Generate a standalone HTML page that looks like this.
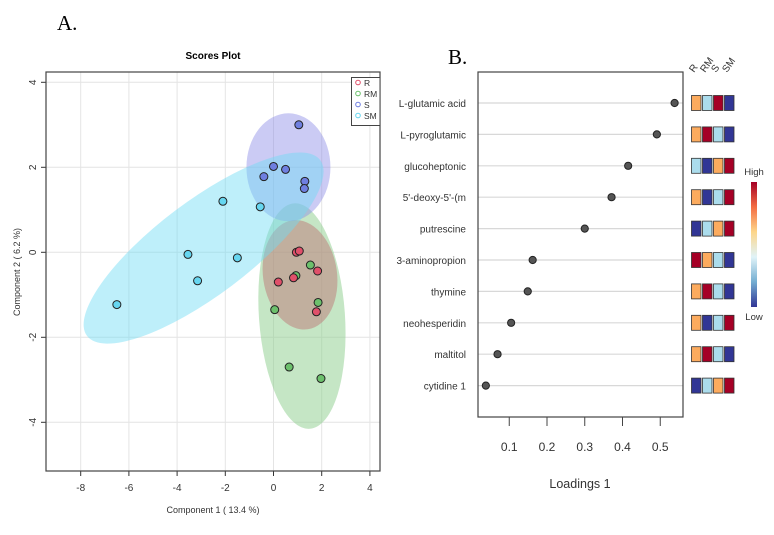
<!DOCTYPE html>
<html><head><meta charset="utf-8"><style>
body{margin:0;background:#fff;}
svg text{font-family:"Liberation Sans",sans-serif;}
</style></head><body>
<svg width="774" height="530" xmlns="http://www.w3.org/2000/svg">
<text x="57" y="30" style="font-family:'Liberation Serif',serif" font-size="21">A.</text>
<text x="448" y="64" style="font-family:'Liberation Serif',serif" font-size="21">B.</text>
<text x="213" y="59" text-anchor="middle" font-size="10" font-weight="bold">Scores Plot</text>
<g id="left"></g>
<g id="right"></g>
</svg>
<script>
const groups=['R','RM','S','SM'];
const groupColors=['#e0506a','#6cc06c','#6f7fe0','#66d6f0'];
const sX=[1.05,0,0.5,-0.4,1.3,1.28];
const sY=[3.0,2.02,1.95,1.78,1.67,1.5];
const smX=[-2.1,-0.55,-3.55,-1.5,-3.15,-6.5];
const smY=[1.2,1.07,-0.05,-0.13,-0.67,-1.23];
const rX=[0.95,1.07,1.83,0.2,0.83,1.78];
const rY=[0.0,0.03,-0.44,-0.7,-0.6,-1.4];
const rmX=[1.53,0.93,1.85,0.05,0.65,1.97];
const rmY=[-0.3,-0.55,-1.18,-1.35,-2.7,-2.97];
const xTicks=[-8,-6,-4,-2,0,2,4];
const yTicks=[-4,-2,0,2,4];
const metabolites=['L-glutamic acid','L-pyroglutamic','glucoheptonic','5\'-deoxy-5\'-(m','putrescine','3-aminopropion','thymine','neohesperidin','maltitol','cytidine 1'];
const loadings=[0.538,0.491,0.415,0.371,0.30,0.162,0.149,0.105,0.069,0.038];
const loadTicks=[0.1,0.2,0.3,0.4,0.5];
// heat levels: 0 low(navy) 1 lightblue 2 orange 3 high(red); columns R,RM,S,SM
const heatR=[2,2,1,2,0,3,2,2,2,0];
const heatRM=[1,3,0,0,1,2,3,0,3,1];
const heatS=[3,1,2,1,2,1,1,1,1,2];
const heatSM=[0,0,3,3,3,0,0,3,0,3];
const NS='http://www.w3.org/2000/svg';
function mk(p,t,a){const e=document.createElementNS(NS,t);for(const k in a)e.setAttribute(k,a[k]);p.appendChild(e);return e;}
const L=document.getElementById('left');
const X=v=>273.5+v*24.1, Y=v=>252.3-v*42.5;
xTicks.forEach(t=>{const l=mk(L,'line',{x1:X(t),x2:X(t),y1:72,y2:471,stroke:'#e4e4e4'});


mk(L,'line',{x1:X(t),x2:X(t),y1:471,y2:476,stroke:'#333'});
const tx=mk(L,'text',{x:X(t),y:491,'text-anchor':'middle','font-size':10,fill:'#333'});tx.textContent=t;

});
yTicks.forEach(t=>{const l=mk(L,'line',{x1:46,x2:380,y1:Y(t),y2:Y(t),stroke:'#e4e4e4'});


mk(L,'line',{x1:41,x2:46,y1:Y(t),y2:Y(t),stroke:'#333'});
const tx=mk(L,'text',{x:36,y:Y(t),'text-anchor':'middle','font-size':10,fill:'#333',transform:`rotate(-90 36 ${Y(t)})`});tx.textContent=t;

});
function ell(cx,cy,rx,ry,rot,fill,name){const e=mk(L,'ellipse',{cx:X(cx),cy:Y(cy),rx:rx,ry:ry,fill:fill,transform:`rotate(${rot} ${X(cx)} ${Y(cy)})`});

}
ell(1.18,-1.5,43,113,-4,'rgba(140,205,140,0.5)','rm-ellipse');
ell(1.1,-0.53,37,55,-8,'rgba(190,120,120,0.5)','r-ellipse');
ell(0.62,2.0,42,54,0,'rgba(140,140,230,0.45)','s-ellipse');
ell(-2.9,0.1,146,47,-37,'rgba(110,220,245,0.45)','sm-ellipse');
function pts(xs,ys,c,name){xs.forEach((x,i)=>{const p=mk(L,'circle',{cx:X(x),cy:Y(ys[i]),r:4,fill:c,stroke:'#222','stroke-width':1});

});}
pts(smX,smY,groupColors[3],'sm-point');pts(sX,sY,groupColors[2],'s-point');pts(rmX,rmY,groupColors[1],'rm-point');pts(rX,rY,groupColors[0],'r-point');
mk(L,'rect',{x:46,y:72,width:334,height:399,fill:'none',stroke:'#444','stroke-width':1.2});
const lg=mk(L,'g',{});


mk(lg,'rect',{x:351.5,y:77.5,width:28.5,height:48,fill:'#fff',stroke:'#444'});
groups.forEach((g,i)=>{mk(lg,'circle',{cx:358,cy:82.5+i*11,r:2.3,fill:'none',stroke:groupColors[i]});
const t=mk(lg,'text',{x:364,y:86+i*11,'font-size':8.5,fill:'#333'});t.textContent=g;

});
let t=mk(L,'text',{x:213,y:513,'text-anchor':'middle','font-size':9,fill:'#333'});t.textContent='Component 1 ( 13.4 %)';


t=mk(L,'text',{x:20,y:272,'text-anchor':'middle','font-size':9,fill:'#333',transform:'rotate(-90 20 272)'});t.textContent='Component 2 ( 6.2 %)';


const R=document.getElementById('right');
const LX=v=>471.5+v*377.5, RY=i=>103+i*31.4;
const heatCols=['#313695','#abdcec','#fcab5e','#a50026'];
const cols=[heatR,heatRM,heatS,heatSM];
metabolites.forEach((m,i)=>{const l=mk(R,'line',{x1:478,x2:683,y1:RY(i),y2:RY(i),stroke:'#d8d8d8','stroke-width':1.2});


const tx=mk(R,'text',{x:466,y:RY(i)+4,'text-anchor':'end','font-size':10,fill:'#333'});tx.textContent=m;


const c=mk(R,'circle',{cx:LX(loadings[i]),cy:RY(i),r:3.6,fill:'#555',stroke:'#222'});


cols.forEach((col,j)=>{const r=mk(R,'rect',{x:691.5+j*11,y:RY(i)-7.5,width:9.5,height:15,fill:heatCols[col[i]],stroke:'#333','stroke-width':0.8});

});});
mk(R,'rect',{x:478,y:72,width:205,height:345,fill:'none',stroke:'#444','stroke-width':1.2});
loadTicks.forEach(v=>{mk(R,'line',{x1:LX(v),x2:LX(v),y1:417,y2:426,stroke:'#444'});
const tx=mk(R,'text',{x:LX(v),y:451,'text-anchor':'middle','font-size':12,fill:'#333'});tx.textContent=v;

});
t=mk(R,'text',{x:580,y:488,'text-anchor':'middle','font-size':12.5,fill:'#333'});t.textContent='Loadings 1';


groups.forEach((g,j)=>{const x=694+j*11;const tx=mk(R,'text',{x:x,y:73,'font-size':10,fill:'#333',transform:`rotate(-55 ${x} 73)`});tx.textContent=g;

});
const defs=mk(R,'defs',{});const gr=mk(defs,'linearGradient',{id:'cb',x1:0,y1:0,x2:0,y2:1});
['#a50026','#f46d43','#fdd68a','#e0f3f8','#74add1','#313695'].forEach((c,i)=>mk(gr,'stop',{offset:i/5,'stop-color':c}));
const cb=mk(R,'rect',{x:751,y:182,width:6,height:125,fill:'url(#cb)'});


t=mk(R,'text',{x:754,y:175,'text-anchor':'middle','font-size':9.5,fill:'#333'});t.textContent='High';


t=mk(R,'text',{x:754,y:320,'text-anchor':'middle','font-size':9.5,fill:'#333'});t.textContent='Low';


</script>
</body></html>
